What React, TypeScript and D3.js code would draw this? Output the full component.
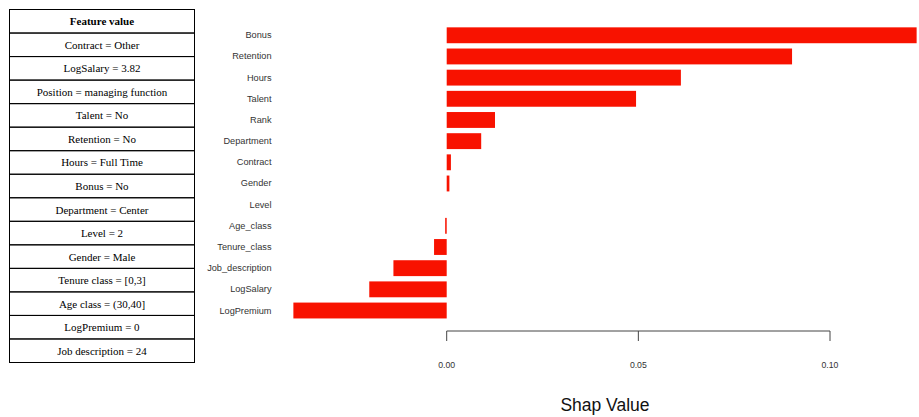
import React from "react";
import * as d3 from "d3";

const features = [
  "Bonus", "Retention", "Hours", "Talent", "Rank", "Department", "Contract",
  "Gender", "Level", "Age_class", "Tenure_class", "Job_description", "LogSalary", "LogPremium",
];
const shapValues = [
  0.1226, 0.0901, 0.0611, 0.0494, 0.0126, 0.0090, 0.0011,
  0.0007, 0.0, -0.0004, -0.0033, -0.0139, -0.0202, -0.0400,
];
const tableHeader = "Feature value";
const tableRows = [
  "Contract = Other", "LogSalary = 3.82", "Position = managing function", "Talent = No",
  "Retention = No", "Hours = Full Time", "Bonus = No", "Department = Center", "Level = 2",
  "Gender = Male", "Tenure class = [0,3]", "Age class = (30,40]", "LogPremium = 0",
  "Job description = 24",
];
const xTicks = [0, 0.05, 0.1];
const xTitle = "Shap Value";

export default function App() {
  const W = 919, H = 417;
  const x = d3.scaleLinear().domain([0, 0.1]).range([446.7, 830]);
  const y = d3.scaleBand<string>().domain(features).range([24.7, 321.1]).paddingInner(0.25).paddingOuter(0.125);
  const fmt = d3.format(".2f");

  const tX0 = 9.5, tX1 = 194.5, tY0 = 9.5, tY1 = 362.5;
  const allRows = [tableHeader, ...tableRows];
  const rowH = (tY1 - tY0) / allRows.length;

  return (
    <svg width={W} height={H} style={{ position: "absolute", left: 0, top: 0, background: "#fff" }}>
      <rect width={W} height={H} fill="#fff" />
      {/* table */}
      <g fontFamily="'Liberation Serif', 'Times New Roman', serif" fontSize={11} fill="#000">
        {allRows.map((r, i) => (
          <g key={i}>
            <rect x={tX0} y={tY0 + i * rowH} width={tX1 - tX0} height={rowH} fill="none" stroke="#000" strokeWidth={1} />
            <text x={(tX0 + tX1) / 2} y={tY0 + i * rowH + rowH / 2} textAnchor="middle" dominantBaseline="central" fontWeight={i === 0 ? "bold" : "normal"}>{r}</text>
          </g>
        ))}
      </g>
      {/* bars */}
      {features.map((f, i) => {
        const v = shapValues[i];
        const x0 = x(Math.min(0, v)), x1 = x(Math.max(0, v));
        return (
          <rect key={f} x={x0} y={y(f)!} width={Math.max(0, x1 - x0)} height={y.bandwidth()} fill="#f81200" />
        );
      })}
      {/* labels */}
      <g fontFamily="Arial, 'Liberation Sans', Helvetica, sans-serif" fontSize={9.2} fill="#333">
        {features.map((f) => (
          <text key={f} x={271.5} y={y(f)! + y.bandwidth() / 2} textAnchor="end" dominantBaseline="central">{f}</text>
        ))}
      </g>
      {/* axis */}
      <g stroke="#444" strokeWidth={1} fill="none">
        <line x1={x(0)} x2={x(0.1)} y1={331} y2={331} />
        {xTicks.map((t) => (
          <line key={t} x1={x(t)} x2={x(t)} y1={331} y2={341} />
        ))}
      </g>
      <g fontFamily="Arial, 'Liberation Sans', Helvetica, sans-serif" fontSize={8.7} fill="#333">
        {xTicks.map((t) => (
          <text key={t} x={x(t)} y={365} textAnchor="middle" dominantBaseline="central">{fmt(t)}</text>
        ))}
      </g>
      <text x={605} y={405} textAnchor="middle" dominantBaseline="central" fontFamily="Arial, 'Liberation Sans', Helvetica, sans-serif" fontSize={17.5} fill="#111">{xTitle}</text>
    </svg>
  );
}
